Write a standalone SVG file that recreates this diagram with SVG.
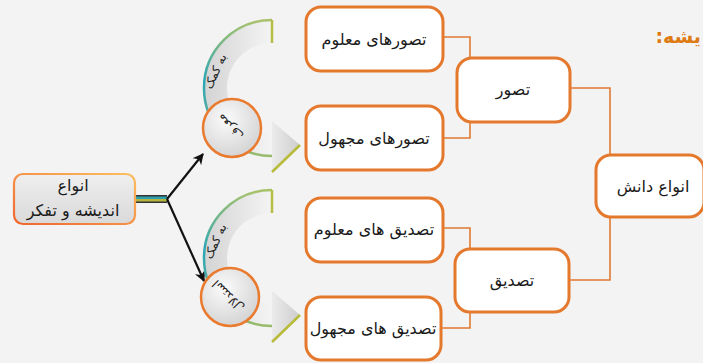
<svg xmlns="http://www.w3.org/2000/svg" width="703" height="363" viewBox="0 0 703 363">
  <defs>
    <linearGradient id="gBoxFill" x1="0" y1="0" x2="0" y2="1">
      <stop offset="0" stop-color="#efefef"/>
      <stop offset="1" stop-color="#d9d9d9"/>
    </linearGradient>
    <linearGradient id="gBoxStroke" x1="0" y1="1" x2="1" y2="0">
      <stop offset="0" stop-color="#f0662e"/>
      <stop offset="1" stop-color="#fbbf63"/>
    </linearGradient>
    <linearGradient id="gArcStroke" x1="0" y1="0" x2="0" y2="1">
      <stop offset="0" stop-color="#a9c26a"/>
      <stop offset="0.45" stop-color="#2aa6b6"/>
      <stop offset="0.75" stop-color="#5fae9a"/>
      <stop offset="1" stop-color="#98bb6a"/>
    </linearGradient>
    <linearGradient id="gBand" x1="0" y1="0" x2="1" y2="0">
      <stop offset="0" stop-color="#d3d3d3"/>
      <stop offset="0.5" stop-color="#e4e4e4"/>
      <stop offset="1" stop-color="#f4f4f4"/>
    </linearGradient>
    <linearGradient id="gHead" x1="0" y1="0" x2="1" y2="0">
      <stop offset="0" stop-color="#ebebeb"/>
      <stop offset="1" stop-color="#cdcdcd"/>
    </linearGradient>
    <radialGradient id="gCircle" cx="0.4" cy="0.35" r="0.7">
      <stop offset="0" stop-color="#fbfbfb"/>
      <stop offset="1" stop-color="#d2d2d2"/>
    </radialGradient>
    <marker id="arrowBlack" viewBox="0 0 10 10" refX="9" refY="5" markerWidth="5" markerHeight="5" orient="auto" markerUnits="strokeWidth">
      <path d="M0,0 L10,5 L0,10 L3,5 Z" fill="#111"/>
    </marker>
    <g id="arcShape">
      <path d="M272,20 A68,68 0 0 0 272,156 L272,133 A45,45 0 0 1 272,43 Z" fill="url(#gBand)"/>
      <polygon points="272,121 300,145 272,172" fill="url(#gHead)"/>
      <path d="M272,20 A68,68 0 0 0 272,156" fill="none" stroke="url(#gArcStroke)" stroke-width="2.5"/>
      <line x1="272" y1="20" x2="272" y2="43" stroke="#b5bd45" stroke-width="2.5"/>
      <line x1="272" y1="172" x2="300" y2="145" stroke="#b8ba3a" stroke-width="2.5"/>
    </g>
  </defs>
  <style>
    .box { fill: #ffffff; stroke: #e4782c; stroke-width: 3; }
    .lbl { font-family: "DejaVu Sans", "Noto Sans", sans-serif; font-size: 16px; fill: #1a1a1a; text-anchor: middle; }
    .small { font-family: "DejaVu Sans", sans-serif; font-size: 12px; fill: #222; text-anchor: middle; }
    .conn { fill: none; stroke: #e07a30; stroke-width: 1.6; }
    .blk { fill: none; stroke: #111; stroke-width: 2.2; }
    .circ { fill: url(#gCircle); stroke: #ea7a2e; stroke-width: 2.5; }
  </style>

  <rect x="0" y="0" width="703" height="363" fill="#f3f3f3"/>

  <text x="701" y="43" direction="rtl" text-anchor="start" font-family="DejaVu Sans, sans-serif" font-size="19" font-weight="bold" fill="#de7a12">یشه:</text>

  <g id="connectors">
    <rect x="135" y="195" width="32" height="8" fill="#333"/>
    <rect x="135" y="196.5" width="32" height="2.5" fill="#2d9fae"/>
    <rect x="135" y="199" width="32" height="2.5" fill="#b4b43e"/>
    <line class="blk" x1="167" y1="199" x2="203" y2="154" marker-end="url(#arrowBlack)"/>
    <line class="blk" x1="167" y1="199" x2="204" y2="281" marker-end="url(#arrowBlack)"/>
    <path class="conn" d="M443,37 H470 V58"/>
    <path class="conn" d="M470,122 V138 H443"/>
    <path class="conn" d="M570,88 H610 V155"/>
    <path class="conn" d="M610,217 V280 H569"/>
    <path class="conn" d="M443,228 H470 V249"/>
    <path class="conn" d="M470,312 V328 H441"/>
  </g>

  <g id="node-thought">
    <rect x="14" y="174" width="121" height="50" rx="9" fill="url(#gBoxFill)" stroke="url(#gBoxStroke)" stroke-width="2.2"/>
    <text class="lbl" x="73" y="191">انواع</text>
    <text class="lbl" x="73" y="216">اندیشه و تفکر</text>
  </g>

  <g id="node-arc-upper">
    <use href="#arcShape"/>
    <text class="small" transform="translate(219,73) rotate(-65)">به کمک</text>
    <circle class="circ" cx="232" cy="128" r="29"/>
    <text class="small" transform="translate(233,124) rotate(-138)">معرف</text>
  </g>

  <g id="node-arc-lower">
    <use href="#arcShape" transform="translate(0,170)"/>
    <text class="small" transform="translate(219,243) rotate(-65)">به کمک</text>
    <circle class="circ" cx="230" cy="297" r="29"/>
    <text class="small" transform="translate(231,293) rotate(-135)">استدلال</text>
  </g>

  <g id="node-tasavvor-known">
    <rect class="box" x="306" y="7" width="137" height="64" rx="15"/>
    <text class="lbl" x="374" y="45">تصورهای معلوم</text>
  </g>
  <g id="node-tasavvor-unknown">
    <rect class="box" x="306" y="106" width="137" height="64" rx="15"/>
    <text class="lbl" x="374" y="144">تصورهای مجهول</text>
  </g>
  <g id="node-tasavvor">
    <rect class="box" x="457" y="58" width="113" height="64" rx="15"/>
    <text class="lbl" x="513" y="95">تصور</text>
  </g>
  <g id="node-knowledge">
    <rect class="box" x="596" y="155" width="108" height="62" rx="15"/>
    <text class="lbl" x="653" y="192">انواع دانش</text>
  </g>
  <g id="node-tasdiq">
    <rect class="box" x="455" y="249" width="114" height="63" rx="15"/>
    <text class="lbl" x="512" y="286">تصدیق</text>
  </g>
  <g id="node-tasdiq-known">
    <rect class="box" x="306" y="198" width="137" height="64" rx="15"/>
    <text class="lbl" x="374" y="235">تصدیق های معلوم</text>
  </g>
  <g id="node-tasdiq-unknown">
    <rect class="box" x="306" y="297" width="135" height="63" rx="15"/>
    <text class="lbl" x="373" y="334">تصدیق های مجهول</text>
  </g>
</svg>
